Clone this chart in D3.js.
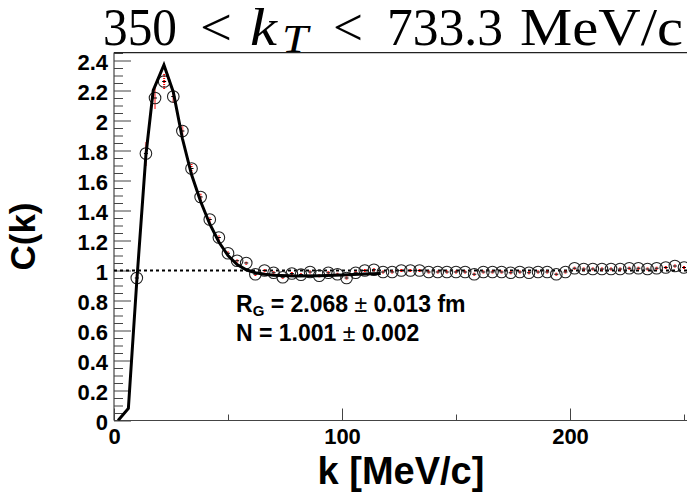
<!DOCTYPE html>
<html>
<head>
<meta charset="utf-8">
<script src="https://cdn.jsdelivr.net/npm/d3@7"></script>
<style>
  html, body { margin: 0; padding: 0; background: #fff; }
  svg { display: block; }
</style>
</head>
<body>
<svg id="chart" width="687" height="495"></svg>
<script>
// ---- data ----
const kBins = [10, 14, 18, 22, 26, 30, 34, 38, 42, 46, 50, 54, 58, 62, 66, 70, 74, 78, 82, 86,
  90, 94, 98, 102, 106, 110, 114, 118, 122, 126, 130, 134, 138, 142, 146, 150, 154, 158, 162, 166,
  170, 174, 178, 182, 186, 190, 194, 198, 202, 206, 210, 214, 218, 222, 226, 230, 234, 238, 242, 246, 250];
const cValues = [0.95, 1.78, 2.15, 2.26, 2.16, 1.93, 1.68, 1.49, 1.34, 1.22, 1.115, 1.065, 1.05, 0.975, 1.0, 0.985, 0.955, 0.98, 0.972, 0.99,
  0.965, 0.985, 0.975, 0.95, 0.985, 1.0, 1.005, 0.99, 0.99, 1.0, 1.0, 1.0, 0.99, 0.99, 0.99, 0.99, 0.99, 0.975, 0.99, 0.99,
  0.99, 0.985, 0.99, 0.985, 0.99, 0.99, 0.975, 0.99, 1.015, 1.01, 1.01, 1.01, 1.01, 1.01, 1.015, 1.015, 1.01, 1.015, 1.02, 1.03, 1.02];
const cErrors = [0.03, 0.08, 0.07, 0.05, 0.04, 0.03, 0.03, 0.025, 0.02, 0.02, 0.015, 0.012, 0.012, 0.012, 0.012, 0.01, 0.01, 0.01, 0.01, 0.01,
  0.01, 0.01, 0.01, 0.01, 0.01, 0.01, 0.01, 0.01, 0.01, 0.01, 0.01, 0.01, 0.01, 0.01, 0.01, 0.01, 0.01, 0.01, 0.01, 0.01,
  0.01, 0.01, 0.01, 0.01, 0.01, 0.01, 0.01, 0.01, 0.01, 0.01, 0.01, 0.01, 0.01, 0.01, 0.01, 0.01, 0.01, 0.01, 0.01, 0.01, 0.01];
// fit curve (as drawn)
const fitK = [1.8, 6.3, 10, 14, 17.2, 21.9, 26, 30, 34, 38, 42, 46, 50, 54, 58, 62, 66, 70, 80, 90, 100, 110, 117];
const fitC = [0, 0.08, 0.93, 1.77, 2.2, 2.37, 2.19, 1.88, 1.64, 1.46, 1.31, 1.19, 1.1, 1.04, 1.005, 0.985, 0.975, 0.968, 0.963, 0.965, 0.97, 0.976, 0.98];
// axis ticks
const yMajorTicks = [0, 0.2, 0.4, 0.6, 0.8, 1, 1.2, 1.4, 1.6, 1.8, 2, 2.2, 2.4];
const yTickLabels = ["0", "0.2", "0.4", "0.6", "0.8", "1", "1.2", "1.4", "1.6", "1.8", "2", "2.2", "2.4"];
const yMinorTicks = [0.05, 0.1, 0.15, 0.25, 0.3, 0.35, 0.45, 0.5, 0.55, 0.65, 0.7, 0.75, 0.85, 0.9, 0.95,
  1.05, 1.1, 1.15, 1.25, 1.3, 1.35, 1.45, 1.5, 1.55, 1.65, 1.7, 1.75, 1.85, 1.9, 1.95,
  2.05, 2.1, 2.15, 2.25, 2.3, 2.35, 2.45];
const xMajorTicks = [0, 100, 200];
const xMinorTicks = [50, 150, 250];
const xTickLabels = ["0", "100", "200"];
const yMax = 2.453;

// ---- layout ----
const svg = d3.select("#chart");
const x = d3.scaleLinear().domain([0, 250]).range([114, 684]);
const y = d3.scaleLinear().domain([0, 2.4]).range([420.5, 60.5]);
const plotRight = 700;
const labelFont = "'Liberation Sans', Arial, Helvetica, sans-serif";

// clip region for the plot area
svg.append("defs").append("clipPath").attr("id", "plotclip")
  .append("rect").attr("x", 114).attr("y", y(yMax)).attr("width", plotRight - 114).attr("height", y(0) - y(yMax));

// y axis ticks (inside)
const yAxisMajor = d3.axisLeft(y).tickValues(yMajorTicks).tickSize(-17).tickPadding(6)
  .tickFormat((d, i) => yTickLabels[i]);
const yAxisMinor = d3.axisLeft(y).tickValues(yMinorTicks).tickSize(-9).tickFormat("");
const gyMinor = svg.append("g").attr("transform", "translate(114,0)").call(yAxisMinor);
const gy = svg.append("g").attr("transform", "translate(114,0)").call(yAxisMajor);
[gy, gyMinor].forEach(g => {
  g.select(".domain").remove();
  g.selectAll(".tick line").attr("stroke", "#444").attr("stroke-width", 1);
});
gy.selectAll(".tick text")
  .attr("font-family", labelFont).attr("font-weight", "bold").attr("font-size", 22)
  .attr("fill", "#000").attr("dy", "0.42em");

// x axis ticks (inside)
const xAxisMajor = d3.axisBottom(x).tickValues(xMajorTicks).tickSize(-12).tickPadding(7.5)
  .tickFormat((d, i) => xTickLabels[i]);
const xAxisMinor = d3.axisBottom(x).tickValues(xMinorTicks).tickSize(-6).tickFormat("");
const gxMinor = svg.append("g").attr("transform", `translate(0,${y(0)})`).call(xAxisMinor);
const gx = svg.append("g").attr("transform", `translate(0,${y(0)})`).call(xAxisMajor);
[gx, gxMinor].forEach(g => {
  g.select(".domain").remove();
  g.selectAll(".tick line").attr("stroke", "#444").attr("stroke-width", 1);
});
gx.selectAll(".tick text")
  .attr("font-family", labelFont).attr("font-weight", "bold").attr("font-size", 22)
  .attr("fill", "#000");

// frame lines
svg.append("line").attr("x1", 114).attr("x2", plotRight).attr("y1", y(0)).attr("y2", y(0))
  .attr("stroke", "#444").attr("stroke-width", 1.2);
svg.append("line").attr("x1", 114).attr("x2", 114).attr("y1", y(0)).attr("y2", y(yMax))
  .attr("stroke", "#444").attr("stroke-width", 1.2);
svg.append("line").attr("x1", 114).attr("x2", plotRight).attr("y1", y(yMax)).attr("y2", y(yMax))
  .attr("stroke", "#222").attr("stroke-width", 1.2);

const plot = svg.append("g").attr("clip-path", "url(#plotclip)");

// dashed line at C = 1
plot.append("line").attr("x1", x(0)).attr("x2", plotRight).attr("y1", y(1)).attr("y2", y(1))
  .attr("stroke", "#000").attr("stroke-width", 2).attr("stroke-dasharray", "3,3");

const pts = kBins.map((k, i) => ({ k, c: cValues[i], e: cErrors[i] }));

// error bars (red, dotted)
plot.selectAll("line.err").data(pts).join("line").attr("class", "err")
  .attr("x1", d => x(d.k)).attr("x2", d => x(d.k))
  .attr("y1", d => y(d.c - d.e)).attr("y2", d => y(d.c + d.e))
  .attr("stroke", "#ff0000").attr("stroke-width", 2).attr("stroke-dasharray", "1,1");

// small black centre marks
plot.selectAll("line.mk").data(pts).join("line").attr("class", "mk")
  .attr("x1", d => x(d.k) - 2).attr("x2", d => x(d.k) + 2)
  .attr("y1", d => y(d.c)).attr("y2", d => y(d.c))
  .attr("stroke", "#000").attr("stroke-width", 1.2);

// open circle markers
plot.selectAll("circle.pt").data(pts).join("circle").attr("class", "pt")
  .attr("cx", d => x(d.k)).attr("cy", d => y(d.c)).attr("r", 5.8)
  .attr("fill", "none").attr("stroke", "#222").attr("stroke-width", 1.1);

// fit curve
const fitPts = fitK.map((k, i) => [k, fitC[i]]);
plot.append("path").datum(fitPts)
  .attr("d", d3.line().x(d => x(d[0])).y(d => y(d[1])))
  .attr("fill", "none").attr("stroke", "#000").attr("stroke-width", 3).attr("stroke-linejoin", "miter");

// axis titles
svg.append("text").attr("x", 401).attr("y", 484).attr("text-anchor", "middle")
  .attr("font-family", labelFont).attr("font-weight", "bold").attr("font-size", 38)
  .text("k [MeV/c]");
svg.append("text").attr("transform", "translate(35,236.5) rotate(-90)").attr("text-anchor", "middle")
  .attr("font-family", labelFont).attr("font-weight", "bold").attr("font-size", 35)
  .text("C(k)");

// fit result annotation
const ann1 = svg.append("text").attr("x", 236).attr("y", 311.5)
  .attr("font-family", labelFont).attr("font-weight", "bold").attr("font-size", 23).attr("fill", "#000");
ann1.append("tspan").text("R");
ann1.append("tspan").attr("font-size", 15).attr("dy", 4).text("G");
ann1.append("tspan").attr("dy", -4).text(" = 2.068 ");
ann1.append("tspan").attr("font-weight", "normal").text("±");
ann1.append("tspan").text(" 0.013 fm");
const ann2 = svg.append("text").attr("x", 236).attr("y", 340.5)
  .attr("font-family", labelFont).attr("font-weight", "bold").attr("font-size", 23).attr("fill", "#000");
ann2.append("tspan").text("N = 1.001 ");
ann2.append("tspan").attr("font-weight", "normal").text("±");
ann2.append("tspan").text(" 0.002");

// title: 350 < k_T < 733.3 MeV/c
const serif = "'Liberation Serif', 'DejaVu Serif', serif";
const tt = svg.append("g").attr("font-family", serif).attr("fill", "#000");
tt.append("text").attr("x", 103).attr("y", 45).attr("font-size", 52)
  .attr("textLength", 74).attr("lengthAdjust", "spacingAndGlyphs").text("350");
tt.append("text").attr("x", 200).attr("y", 45).attr("font-size", 52)
  .attr("textLength", 32).attr("lengthAdjust", "spacingAndGlyphs").text("<");
tt.append("text").attr("x", 250).attr("y", 45).attr("font-size", 52).attr("font-style", "italic")
  .attr("textLength", 27).attr("lengthAdjust", "spacingAndGlyphs").text("k");
tt.append("text").attr("x", 282).attr("y", 51.5).attr("font-size", 40).attr("font-style", "italic")
  .attr("textLength", 26).attr("lengthAdjust", "spacingAndGlyphs").text("T");
tt.append("text").attr("x", 333).attr("y", 45).attr("font-size", 52)
  .attr("textLength", 30).attr("lengthAdjust", "spacingAndGlyphs").text("<");
tt.append("text").attr("x", 387).attr("y", 45).attr("font-size", 52)
  .attr("textLength", 116).attr("lengthAdjust", "spacingAndGlyphs").text("733.3");
tt.append("text").attr("x", 520).attr("y", 45).attr("font-size", 52)
  .attr("textLength", 163).attr("lengthAdjust", "spacingAndGlyphs").text("MeV/c");
</script>
</body>
</html>
